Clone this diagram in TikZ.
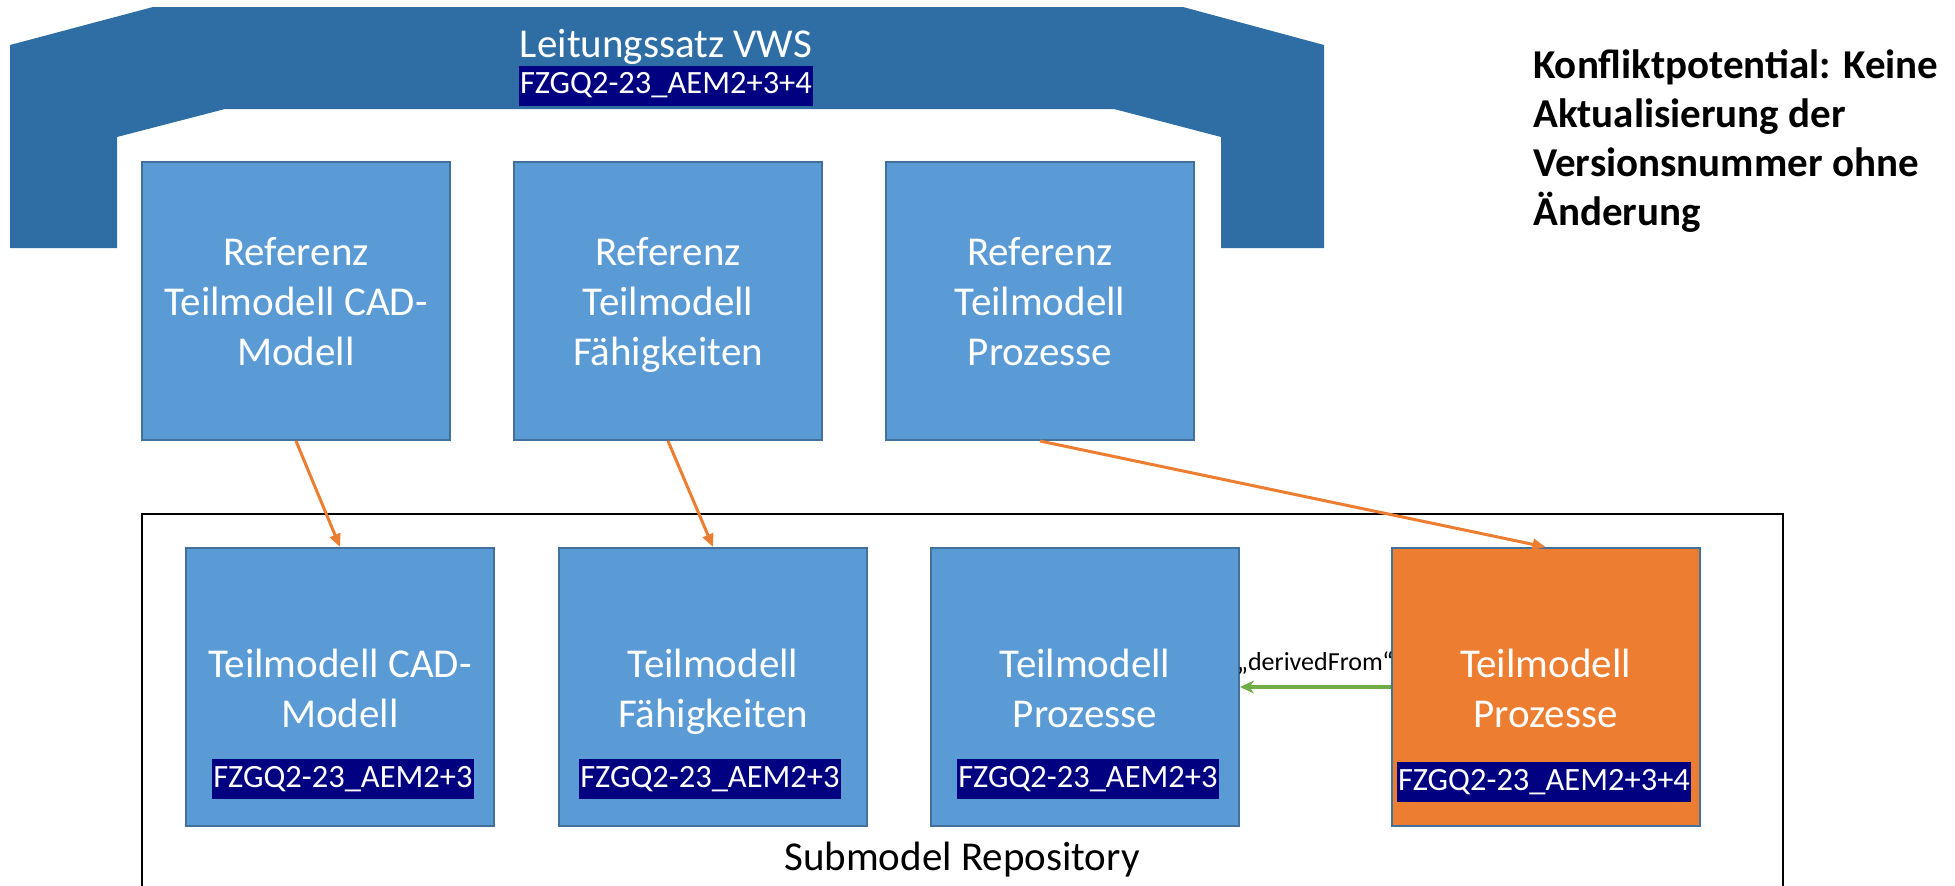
\documentclass[tikz,border=0pt]{standalone}
\usepackage{fontspec}
\setmainfont{Carlito}
\usepackage{tikz}
\usetikzlibrary{arrows.meta}
\definecolor{boxblue}{HTML}{5B9BD5}
\definecolor{boxline}{HTML}{41719C}
\definecolor{archblue}{RGB}{46,110,165}
\definecolor{orng}{HTML}{ED7D31}
\definecolor{grn}{HTML}{70AD47}
\definecolor{navy}{HTML}{000080}

\begin{document}
\begin{tikzpicture}[x=1pt, y=-1pt, box/.style={draw=boxline, line width=2pt, fill=boxblue, minimum width=308pt, minimum height=278pt, inner sep=0pt}, title/.style={text=white, align=center, anchor=base, font=\fontsize{41}{50}\selectfont}, ver/.style={fill=navy, text=white, inner xsep=1pt, inner ysep=0pt, minimum height=40pt, font=\fontsize{32.5}{39}\selectfont}, refarrow/.style={-{Triangle[length=13pt,width=11pt]}, color=orng, line width=3pt}, derived/.style={-{Stealth[length=14pt,width=13pt]}, color=grn, line width=3.5pt}]
\clip (0,0) rectangle (1955,886);
% Leitungssatz (arch)
\fill[archblue] (10,248) -- (10,45) -- (153,7) -- (1183,7) -- (1324,45) -- (1324,248) -- (1221,248) -- (1221,137) -- (1114,109) -- (225,109) -- (117,137) -- (117,248) -- cycle;
\node[title] (a) at (666,57) {Leitungssatz VWS};
\node[ver] (a1) at (666,85.5) {FZGQ2-23\_AEM2+3+4};
% Referenzen (base = last line)
\node[box] (1) at (296,301) {};
\node[box] (2) at (668,301) {};
\node[box] (3) at (1040,301) {};
\node[title] (1t) at (296,365) {Referenz\\Teilmodell CAD-\\Modell};
\node[title] (2t) at (668,365) {Referenz\\Teilmodell\\Fähigkeiten};
\node[title] (3t) at (1040,365) {Referenz\\Teilmodell\\Prozesse};
% Submodel Repository
\draw[line width=2.5pt] (142,890) -- (142,514) -- (1783,514) -- (1783,890);
\node[anchor=base, font=\fontsize{41}{50}\selectfont] (rep) at (962,870) {Submodel Repository};
\node[box] (4) at (340,687) {};
\node[box] (5) at (713,687) {};
\node[box] (6) at (1085,687) {};
\node[box, fill=orng] (7) at (1545.5,687) {};
\node[title] (4t) at (340,727) {Teilmodell CAD-\\Modell};
\node[title] (5t) at (713,727) {Teilmodell\\Fähigkeiten};
\node[title] (6t) at (1085,727) {Teilmodell\\Prozesse};
\node[title] (7t) at (1545.5,727) {Teilmodell\\Prozesse};
\node[ver] (4v) at (343,779) {FZGQ2-23\_AEM2+3};
\node[ver] (5v) at (710,779) {FZGQ2-23\_AEM2+3};
\node[ver] (6v) at (1088,779) {FZGQ2-23\_AEM2+3};
\node[ver] (7v) at (1544,782) {FZGQ2-23\_AEM2+3+4};
\path[refarrow] (1.south) edge (4.north)
(2.south) edge (5.north)
(3.south) edge (7.north);
\path[derived] (7.west) edge node[above=11pt, inner sep=0pt, text=black, font=\fontsize{26}{31}\selectfont] (d) {„derivedFrom“} (6.east);
% Konflikt
\node[anchor=base west, align=left, inner sep=0pt, font=\bfseries\fontsize{41}{49}\selectfont] (k) at (1533,225) {Konfliktpotential: Keine\\Aktualisierung der\\Versionsnummer ohne\\Änderung};
\end{tikzpicture}
\end{document}
